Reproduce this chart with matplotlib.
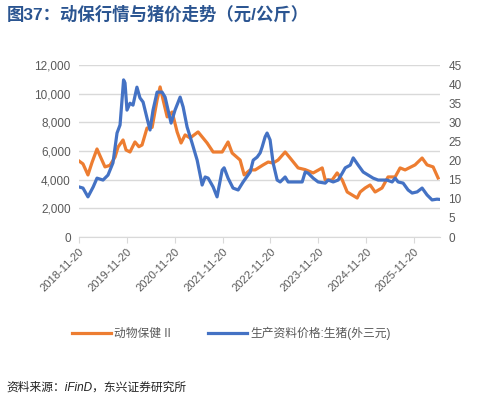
import matplotlib
matplotlib.use("Agg")
import matplotlib.pyplot as plt
import pandas as pd
from matplotlib.ticker import FuncFormatter, MultipleLocator

plt.rcParams['font.family'] = ['Liberation Sans', 'Noto Sans CJK SC', 'DejaVu Sans']

# 动物保健 II index (left axis)
vet_dates = ['2018-11-20', '2018-12-20', '2019-01-27', '2019-02-27', '2019-04-06', '2019-05-07',
             '2019-06-06', '2019-07-14', '2019-08-22', '2019-09-14', '2019-10-22', '2019-11-14',
             '2019-12-14', '2020-01-21', '2020-02-20', '2020-03-15', '2020-04-22', '2020-05-31',
             '2020-07-08', '2020-07-31', '2020-08-23', '2020-09-23', '2020-10-31', '2020-12-08',
             '2021-01-07', '2021-02-07', '2021-03-17', '2021-05-17', '2021-07-25', '2021-09-09',
             '2021-11-17', '2022-01-01', '2022-02-01', '2022-04-03', '2022-05-04', '2022-06-19',
             '2022-07-27', '2022-09-26', '2022-11-03', '2022-12-11', '2023-01-18', '2023-03-13',
             '2023-04-20', '2023-06-20', '2023-08-13', '2023-10-13', '2023-12-21', '2024-01-13',
             '2024-03-06', '2024-04-13', '2024-05-22', '2024-06-29', '2024-08-06', '2024-09-13',
             '2024-10-06', '2024-11-13', '2024-12-21', '2025-01-28', '2025-03-22', '2025-05-07',
             '2025-06-30', '2025-08-07', '2025-09-14', '2025-11-29', '2026-01-22', '2026-03-01',
             '2026-04-16', '2026-05-24']
vet_index = [5300, 5100, 4330, 5200, 6140, 5500,
             4890, 5000, 5580, 6280, 6770, 6070,
             5930, 6630, 6300, 6420, 7600, 7650,
             9560, 10470, 9560, 8380, 8720, 7330,
             6560, 7120, 6910, 7330, 6560, 5930,
             5930, 6630, 5860, 5370, 4330, 4680,
             4680, 5030, 5230, 5160, 5370, 5930,
             5510, 4820, 4700, 4470, 4820, 3980,
             3980, 4470, 3980, 3140, 2930, 2720,
             3140, 3420, 3630, 3140, 3420, 4190,
             4190, 4820, 4680, 5030, 5510, 5030,
             4890, 4120]

# 生猪(外三元) price, yuan/kg (right axis)
hog_dates = ['2018-11-20', '2018-12-20', '2019-01-27', '2019-03-08', '2019-04-06', '2019-05-22',
             '2019-06-29', '2019-08-06', '2019-09-06', '2019-09-29', '2019-10-14', '2019-10-26',
             '2019-11-06', '2019-11-21', '2019-12-14', '2020-01-06', '2020-02-05', '2020-02-28',
             '2020-03-23', '2020-04-22', '2020-05-15', '2020-06-07', '2020-07-08', '2020-08-15',
             '2020-09-07', '2020-10-23', '2020-11-22', '2020-12-31', '2021-01-23', '2021-02-22',
             '2021-04-01', '2021-05-10', '2021-06-02', '2021-06-17', '2021-07-10', '2021-08-02',
             '2021-09-09', '2021-10-09', '2021-11-17', '2021-12-02', '2022-01-01', '2022-02-08',
             '2022-03-19', '2022-04-26', '2022-06-19', '2022-07-12', '2022-08-11', '2022-09-03',
             '2022-09-18', '2022-10-11', '2022-10-26', '2022-11-18', '2022-12-11', '2023-01-11',
             '2023-02-03', '2023-03-13', '2023-04-05', '2023-06-13', '2023-07-21', '2023-08-13',
             '2023-09-05', '2023-10-13', '2023-11-20', '2024-01-13', '2024-02-05', '2024-03-14',
             '2024-04-21', '2024-05-22', '2024-06-14', '2024-07-22', '2024-08-14', '2024-09-21',
             '2024-10-29', '2024-12-06', '2025-01-13', '2025-02-20', '2025-04-29', '2025-06-07',
             '2025-06-30', '2025-07-23', '2025-08-30', '2025-10-07', '2025-11-07', '2025-12-15',
             '2026-01-22', '2026-03-01', '2026-04-08', '2026-05-16', '2026-06-15']
hog_price = [13.1, 12.8, 10.5, 13.1, 15.4, 14.9,
             16.2, 19.4, 27.2, 29.3, 35.8, 41.1,
             40.3, 33.2, 35.0, 34.5, 39.2, 36.4,
             35.3, 31.1, 28.0, 33.2, 37.9, 37.9,
             36.6, 29.8, 33.2, 36.6, 34.0, 28.8,
             24.6, 20.1, 16.2, 13.6, 15.7, 15.4,
             13.1, 10.5, 17.5, 18.1, 15.4, 12.8,
             12.3, 14.4, 17.0, 20.1, 20.9, 22.0,
             23.5, 26.2, 27.2, 25.4, 19.4, 14.9,
             14.4, 15.7, 14.4, 14.4, 14.4, 17.0,
             16.7, 15.4, 14.4, 14.1, 14.9, 14.4,
             14.9, 16.7, 18.1, 18.8, 20.7, 18.8,
             17.0, 16.2, 15.4, 14.9, 14.9, 14.4,
             15.4, 14.4, 14.1, 12.3, 11.5, 11.8,
             12.8, 11.0, 9.7, 9.9, 9.8]

tick_labels = ['2018-11-20', '2019-11-20', '2020-11-20', '2021-11-20',
               '2022-11-20', '2023-11-20', '2024-11-20', '2025-11-20']

orange = '#ED7D31'
blue = '#4472C4'
grey = '#595959'
grid_c = '#D9D9D9'

fig = plt.figure(figsize=(4.88, 4.0), dpi=100)
ax = fig.add_axes([0.162, 0.4075, 0.740, 0.43])
ax2 = ax.twinx()

ln1, = ax.plot(pd.to_datetime(vet_dates), vet_index, color=orange, lw=2.3, label='动物保健 II')
ln2, = ax2.plot(pd.to_datetime(hog_dates), hog_price, color=blue, lw=2.3, label='生产资料价格:生猪(外三元)')

ax.set_ylim(0, 12000)
ax.yaxis.set_major_locator(MultipleLocator(2000))
ax.yaxis.set_major_formatter(FuncFormatter(lambda v, p: f'{int(v):,}'))
ax2.set_ylim(0, 45)
ax2.yaxis.set_major_locator(MultipleLocator(5))

ax.set_xlim(pd.Timestamp('2018-11-20'), pd.Timestamp('2026-06-09'))
ax.set_xticks(pd.to_datetime(tick_labels))
ax.set_xticklabels(tick_labels, rotation=45, ha='right', rotation_mode='anchor')

ax.grid(axis='y', color=grid_c, lw=1)
ax.set_axisbelow(True)
for a in (ax, ax2):
    for s in ('top', 'left', 'right'):
        a.spines[s].set_visible(False)
    a.spines['bottom'].set_color(grid_c)
ax2.spines['bottom'].set_visible(False)

ax.tick_params(axis='x', colors=grid_c, labelcolor=grey, labelsize=8, length=4, pad=3)
ax.tick_params(axis='y', length=0, labelcolor=grey, labelsize=8.5, pad=6)
ax2.tick_params(axis='y', length=0, labelcolor=grey, labelsize=8.5, pad=6)

fig.legend(handles=[ln1, ln2], loc='center left', bbox_to_anchor=(0.147, 0.167), ncol=2,
           frameon=False, fontsize=8.5, labelcolor=grey, handlelength=3.3,
           columnspacing=3.1, handletextpad=0.3, borderaxespad=0, borderpad=0)

fig.text(0.014, 0.965, '图37：动保行情与猪价走势（元/公斤）', fontsize=12.5, fontweight='bold',
         color='#2B5591', va='center', ha='left')
fig.text(0.014, 0.03, '资料来源：iFinD，东兴证券研究所', fontsize=8.5, style='italic',
         color='#222222', va='center', ha='left')

fig.savefig('out.png', dpi=100)
